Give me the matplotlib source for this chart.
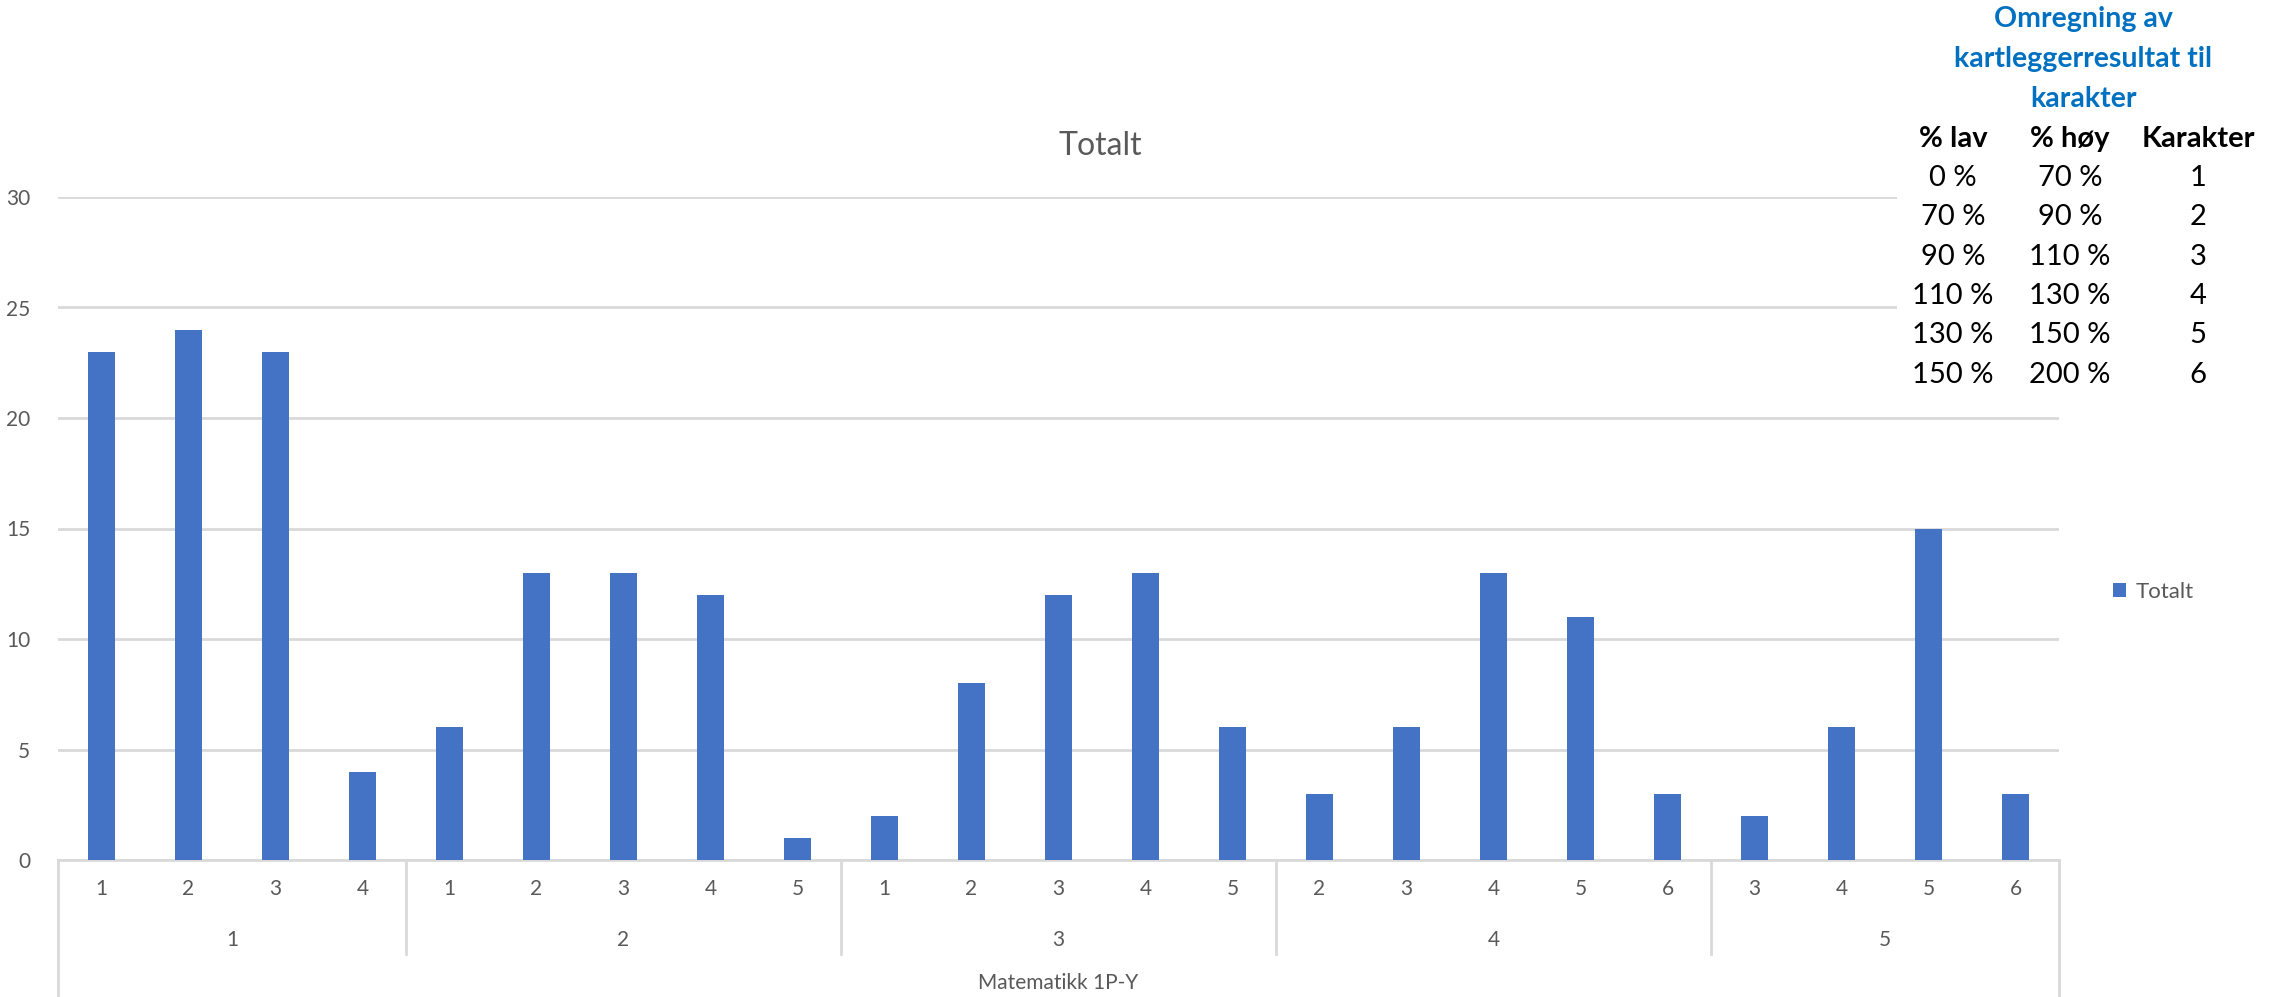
import matplotlib.pyplot as plt
import matplotlib.transforms as mtransforms
from matplotlib.patches import Rectangle

plt.rcParams['font.family'] = ['Lato', 'DejaVu Sans']

# data
grupper = ['1', '2', '3', '4', '5']
kategorier = [['1', '2', '3', '4'],
              ['1', '2', '3', '4', '5'],
              ['1', '2', '3', '4', '5'],
              ['2', '3', '4', '5', '6'],
              ['3', '4', '5', '6']]
totalt = [23, 24, 23, 4,
          6, 13, 13, 12, 1,
          2, 8, 12, 13, 6,
          3, 6, 13, 11, 3,
          2, 6, 15, 3]

tabell_lav = ['0 %', '70 %', '90 %', '110 %', '130 %', '150 %']
tabell_hoy = ['70 %', '90 %', '110 %', '130 %', '150 %', '200 %']
tabell_kar = ['1', '2', '3', '4', '5', '6']

GRAA = '#595959'
LINJE = '#D9D9D9'
BLAA = '#4472C4'

fig = plt.figure(figsize=(22.85, 9.97), dpi=100)
ax = fig.add_axes([58/2285, 137/997, (2059-58)/2285, 663/997])

etiketter = [k for g in kategorier for k in g]
x = list(range(len(totalt)))
ax.bar(x, totalt, width=0.32, color=BLAA, label='Totalt', zorder=3)

ax.set_xlim(-0.5, len(totalt) - 0.5)
ax.set_ylim(0, 30)
ax.set_yticks(range(0, 31, 5))
ax.yaxis.grid(True, color=LINJE, linewidth=2)
ax.set_axisbelow(True)
for s in ['top', 'right', 'left']:
    ax.spines[s].set_visible(False)
ax.spines['bottom'].set_color(LINJE)
ax.spines['bottom'].set_linewidth(2)
ax.tick_params(axis='y', length=0, labelsize=15, labelcolor=GRAA, pad=20)
ax.set_xticks(x)
ax.set_xticklabels(etiketter)
ax.tick_params(axis='x', length=0, labelsize=15, labelcolor=GRAA, pad=14)

# multi-level x axis
trans = mtransforms.blended_transform_factory(ax.transData, ax.transAxes)
start = -0.5
grenser = [start]
for g, kat in zip(grupper, kategorier):
    midt = start + len(kat) / 2
    ax.text(midt, -0.121, g, transform=trans, ha='center', va='center',
            fontsize=15, color=GRAA)
    start += len(kat)
    grenser.append(start)
for i, b in enumerate(grenser):
    bunn = -0.207 if i in (0, len(grenser) - 1) else -0.142
    ax.plot([b, b], [0, bunn], transform=trans, color=LINJE, linewidth=2,
            clip_on=False)
ax.text(0.5, -0.186, 'Matematikk 1P-Y', transform=ax.transAxes, ha='center',
        va='center', fontsize=15, color=GRAA)

fig.text(1100/2285, 1 - 146/997, 'Totalt', ha='center', va='center',
         fontsize=23, color=GRAA)

leg = fig.legend(loc='center left', bbox_to_anchor=(2093/2285, 1 - 592/997),
                 frameon=False, fontsize=16, handlelength=0.6, handleheight=0.6,
                 handletextpad=0.4)
for t in leg.get_texts():
    t.set_color(GRAA)

# conversion table (white box over the grid)
fig.patches.append(Rectangle((1897/2285, 1 - 400/997), 1 - 1897/2285, 400/997,
                             transform=fig.transFigure, facecolor='white',
                             edgecolor='none', zorder=5))
for i, linje in enumerate(['Omregning av', 'kartleggerresultat til', 'karakter']):
    fig.text(2083/2285, 1 - (19 + 40 * i)/997, linje, ha='center', va='center',
             fontsize=20.5, fontweight='bold', color='#0070C0', zorder=6)
kol = [1953/2285, 2070/2285, 2198/2285]
for xk, h in zip(kol, ['% lav', '% høy', 'Karakter']):
    fig.text(xk, 1 - 139/997, h, ha='center', va='center', fontsize=21,
             fontweight='bold', color='black', zorder=6)
for i in range(len(tabell_lav)):
    yy = 1 - (178 + 39.3 * i)/997
    for xk, v in zip(kol, [tabell_lav[i], tabell_hoy[i], tabell_kar[i]]):
        fig.text(xk, yy, v, ha='center', va='center', fontsize=21,
                 color='black', zorder=6)

fig.savefig('out.png', dpi=100, facecolor='white')
